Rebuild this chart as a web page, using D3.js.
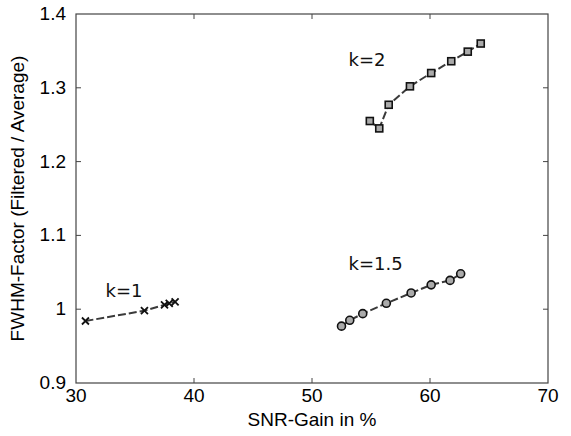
<!DOCTYPE html>
<html>
<head>
<meta charset="utf-8">
<script src="https://cdn.jsdelivr.net/npm/d3@7"></script>
<style>
  body { margin: 0; background: #fff; }
  svg { display: block; }
</style>
</head>
<body>
<div id="chart"></div>
<script>
// data
const k1X = [30.8, 35.8, 37.5, 37.9, 38.4];
const k1Y = [0.984, 0.998, 1.006, 1.008, 1.010];
const k15X = [52.5, 53.2, 54.3, 56.3, 58.4, 60.1, 61.7, 62.6];
const k15Y = [0.977, 0.985, 0.994, 1.008, 1.022, 1.033, 1.039, 1.048];
const k2X = [54.9, 55.7, 56.5, 58.3, 60.1, 61.8, 63.2, 64.3];
const k2Y = [1.255, 1.245, 1.277, 1.302, 1.320, 1.336, 1.349, 1.360];
const xTicks = [30, 40, 50, 60, 70];
const yTicks = [0.9, 1.0, 1.1, 1.2, 1.3, 1.4];

const series = [
    { name: "k=1", xs: k1X, ys: k1Y, marker: "cross", label: [32.5, 1.0165] },
    { name: "k=1.5", xs: k15X, ys: k15Y, marker: "circle", label: [53.1, 1.053] },
    { name: "k=2", xs: k2X, ys: k2Y, marker: "square", label: [53.1, 1.3295] }
];

const width = 571, height = 436;
const margin = { top: 14, right: 23, bottom: 53, left: 76 };
const fontFamily = "'Liberation Sans', Arial, sans-serif";
const axisColor = "#444";

const svg = d3.select("#chart").append("svg")
    .attr("width", width).attr("height", height);

const x = d3.scaleLinear().domain([30, 70]).range([margin.left, width - margin.right]);
const y = d3.scaleLinear().domain([0.9, 1.4]).range([height - margin.bottom, margin.top]);

// frame
svg.append("rect")
    .attr("x", x(30)).attr("y", y(1.4))
    .attr("width", x(70) - x(30)).attr("height", y(0.9) - y(1.4))
    .attr("fill", "none").attr("stroke", axisColor).attr("stroke-width", 1.2);

// ticks inside, all sides (matlab style)
const tl = 5;
xTicks.slice(1, -1).forEach(t => {
    svg.append("line").attr("x1", x(t)).attr("x2", x(t))
        .attr("y1", y(0.9)).attr("y2", y(0.9) - tl).attr("stroke", axisColor);
    svg.append("line").attr("x1", x(t)).attr("x2", x(t))
        .attr("y1", y(1.4)).attr("y2", y(1.4) + tl).attr("stroke", axisColor);
});
yTicks.slice(1, -1).forEach(t => {
    svg.append("line").attr("x1", x(30)).attr("x2", x(30) + tl)
        .attr("y1", y(t)).attr("y2", y(t)).attr("stroke", axisColor);
    svg.append("line").attr("x1", x(70)).attr("x2", x(70) - tl)
        .attr("y1", y(t)).attr("y2", y(t)).attr("stroke", axisColor);
});

// tick labels
svg.selectAll("text.xt").data(xTicks).enter().append("text")
    .attr("class", "xt")
    .attr("x", d => x(d)).attr("y", y(0.9) + 19)
    .attr("text-anchor", "middle")
    .style("font-family", fontFamily).style("font-size", "19px").attr("fill", "#000")
    .text(d => d);

svg.selectAll("text.yt").data(yTicks).enter().append("text")
    .attr("class", "yt")
    .attr("x", x(30) - 10).attr("y", d => y(d) + 6)
    .attr("text-anchor", "end")
    .style("font-family", fontFamily).style("font-size", "19px").attr("fill", "#000")
    .text(d => d === 1 ? "1" : d3.format(".1f")(d));

// axis titles
svg.append("text")
    .attr("x", (x(30) + x(70)) / 2).attr("y", 426)
    .attr("text-anchor", "middle")
    .style("font-family", fontFamily).style("font-size", "19px")
    .text("SNR-Gain in %");

svg.append("text")
    .attr("transform", `translate(24, ${(y(0.9) + y(1.4)) / 2}) rotate(-90)`)
    .attr("text-anchor", "middle")
    .style("font-family", fontFamily).style("font-size", "19px")
    .text("FWHM-Factor (Filtered / Average)");

// lines and markers
const line = d3.line().x(d => x(d[0])).y(d => y(d[1]));

series.forEach(s => {
    const pts = s.xs.map((v, i) => [v, s.ys[i]]);
    svg.append("path").datum(pts)
        .attr("d", line)
        .attr("fill", "none").attr("stroke", "#3a3a3a")
        .attr("stroke-width", 2).attr("stroke-dasharray", "8,3");

    const g = svg.append("g");
    pts.forEach(p => {
        const cx = x(p[0]), cy = y(p[1]);
        if (s.marker === "square") {
            g.append("rect").attr("x", cx - 3.5).attr("y", cy - 3.5)
                .attr("width", 7).attr("height", 7)
                .attr("fill", "#aaa").attr("stroke", "#111").attr("stroke-width", 1.6);
        } else if (s.marker === "circle") {
            g.append("circle").attr("cx", cx).attr("cy", cy).attr("r", 4)
                .attr("fill", "#aaa").attr("stroke", "#111").attr("stroke-width", 1.6);
        } else {
            g.append("path")
                .attr("d", `M${cx - 3.5},${cy - 3.5}L${cx + 3.5},${cy + 3.5}M${cx - 3.5},${cy + 3.5}L${cx + 3.5},${cy - 3.5}`)
                .attr("stroke", "#111").attr("stroke-width", 1.8);
        }
    });

    svg.append("text")
        .attr("x", x(s.label[0])).attr("y", y(s.label[1]))
        .style("font-family", "'DejaVu Sans', sans-serif").style("font-size", "18px")
        .attr("fill", "#111")
        .text(s.name);
});
</script>
</body>
</html>
